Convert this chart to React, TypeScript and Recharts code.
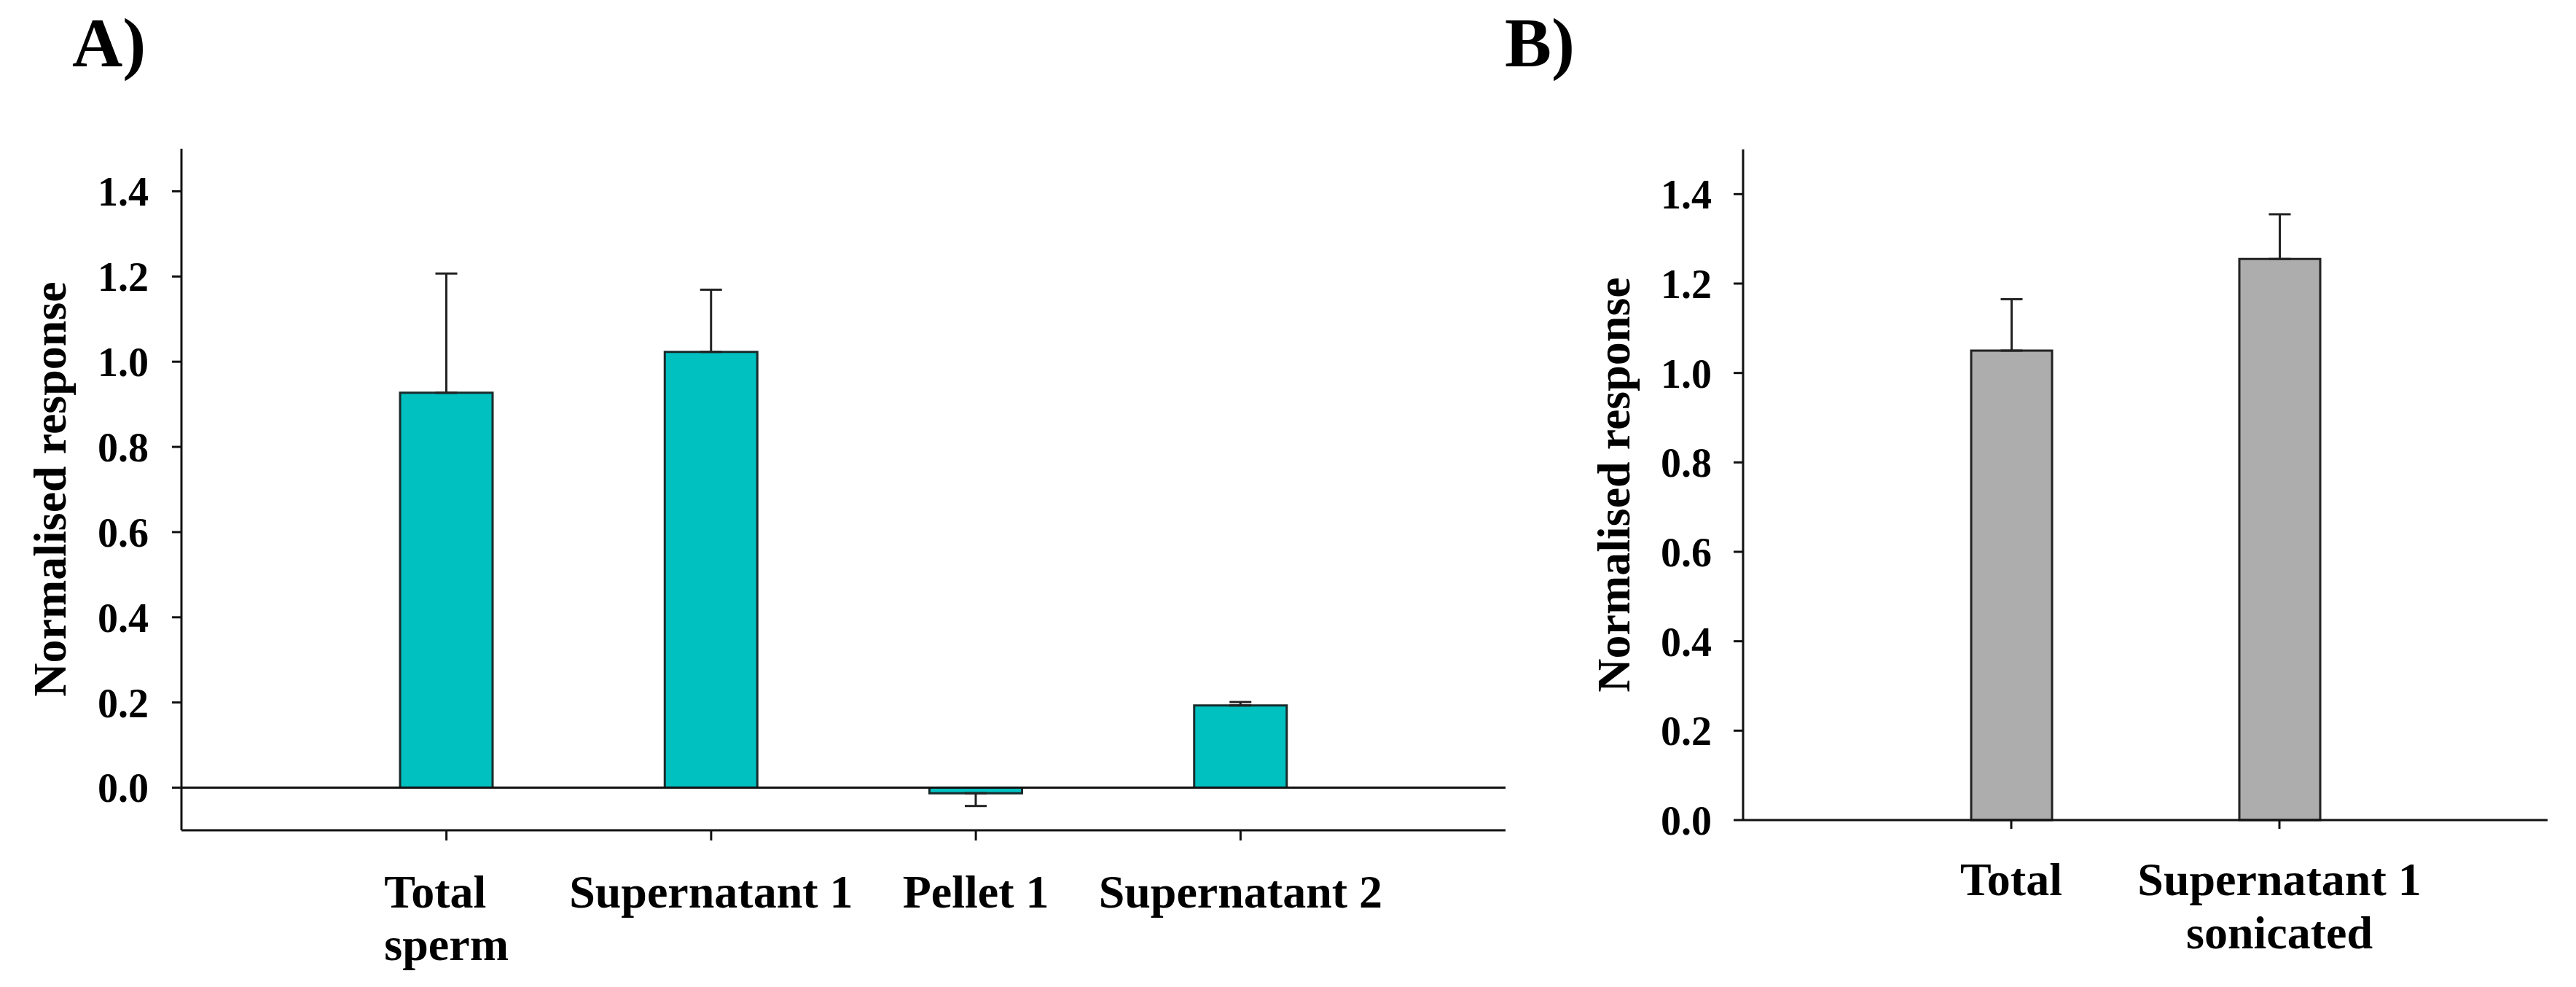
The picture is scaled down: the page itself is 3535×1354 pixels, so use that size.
import { BarChart, Bar, XAxis, YAxis, ReferenceLine, ErrorBar, Label } from 'recharts';

// Panel A: sperm fractions
const fractionNames = ['Total\nsperm', 'Supernatant 1', 'Pellet 1', 'Supernatant 2'];
const fractionMeans = [0.927, 1.023, -0.013, 0.193];
const fractionErrors = [0.28, 0.146, 0.03, 0.008];

// Panel B: sonication
const sonicNames = ['Total', 'Supernatant 1\nsonicated'];
const sonicMeans = [1.05, 1.255];
const sonicErrors = [0.115, 0.1];

const yTicks = [0, 0.2, 0.4, 0.6, 0.8, 1.0, 1.2, 1.4];

const FONT = '"Liberation Serif", "Times New Roman", serif';
const INK = '#111';
const TEAL = '#00C0C0';
const GREY = '#ADADAD';
const LABEL_SIZE = 64;

// error drawn only away from zero, like the original figure
function buildRows(names: string[], means: number[], errors: number[]) {
  return names.map((name, i) => ({
    name,
    value: means[i],
    err: means[i] >= 0 ? [0, errors[i]] : [errors[i], 0],
  }));
}

const measureCtx = document.createElement('canvas').getContext('2d');
function textWidth(s: string) {
  if (!measureCtx) return s.length * LABEL_SIZE * 0.5;
  measureCtx.font = `bold ${LABEL_SIZE}px ${FONT}`;
  return measureCtx.measureText(s).width;
}

// multi-line category label; "left" keeps the lines flush-left as a centred block
function MultiLineTick(props: any) {
  const { x, y, payload, firstDy, lineGap, align } = props;
  const lines = String(payload.value).split('\n');
  const flushLeft = align === 'left' && lines.length > 1;
  const startX = flushLeft ? x - Math.max(...lines.map(textWidth)) / 2 : x;
  return (
    <text
      x={startX}
      y={y}
      textAnchor={flushLeft ? 'start' : 'middle'}
      fontFamily={FONT}
      fontWeight="bold"
      fontSize={LABEL_SIZE}
      fill="#000"
    >
      {lines.map((line, i) => (
        <tspan key={i} x={startX} dy={i === 0 ? firstDy : lineGap}>
          {line}
        </tspan>
      ))}
    </text>
  );
}

function yTitle(baselineX: number, centerY: number) {
  return () => (
    <text
      x={baselineX}
      y={centerY}
      transform={`rotate(-90, ${baselineX}, ${centerY})`}
      textAnchor="middle"
      fontFamily={FONT}
      fontWeight="bold"
      fontSize={LABEL_SIZE}
      fill="#000"
    >
      Normalised response
    </text>
  );
}

const tickStyle = { fontFamily: FONT, fontWeight: 'bold', fontSize: 56, fill: '#000' };
const axisStroke = { stroke: INK, strokeWidth: 3 };

function PanelA() {
  const rows = buildRows(fractionNames, fractionMeans, fractionErrors);
  return (
    <BarChart
      width={2100}
      height={1354}
      data={rows}
      margin={{ top: 204, right: 34, bottom: 0, left: 0 }}
    >
      <XAxis
        dataKey="name"
        type="category"
        interval={0}
        padding={{ left: 182, right: 182 }}
        axisLine={axisStroke}
        tickLine={axisStroke}
        tickSize={14}
        tick={<MultiLineTick firstDy={90} lineGap={72} align="left" />}
        height={215}
      />
      <YAxis
        type="number"
        domain={[-0.1, 1.5]}
        ticks={yTicks}
        interval={0}
        width={249}
        axisLine={axisStroke}
        tickLine={axisStroke}
        tickSize={13}
        tickMargin={32}
        tick={tickStyle}
        tickFormatter={(v: number) => v.toFixed(1)}
      >
        <Label content={yTitle(90, 671)} />
      </YAxis>
      <ReferenceLine y={0} stroke={INK} strokeWidth={3} />
      <Bar dataKey="value" fill={TEAL} stroke="#1a2b2b" strokeWidth={3} barSize={127} isAnimationActive={false}>
        <ErrorBar dataKey="err" width={15} stroke="#222" strokeWidth={3} isAnimationActive={false} />
      </Bar>
    </BarChart>
  );
}

function PanelB() {
  const rows = buildRows(sonicNames, sonicMeans, sonicErrors);
  return (
    <BarChart
      width={1435}
      height={1354}
      data={rows}
      margin={{ top: 205, right: 39, bottom: 0, left: 0 }}
    >
      <XAxis
        dataKey="name"
        type="category"
        interval={0}
        padding={{ left: 184, right: 184 }}
        axisLine={axisStroke}
        tickLine={axisStroke}
        tickSize={12}
        tick={<MultiLineTick firstDy={89} lineGap={73} />}
        height={229}
      />
      <YAxis
        type="number"
        domain={[0, 1.5]}
        ticks={yTicks}
        interval={0}
        width={292}
        axisLine={axisStroke}
        tickLine={axisStroke}
        tickSize={13}
        tickMargin={30}
        tick={tickStyle}
        tickFormatter={(v: number) => v.toFixed(1)}
      >
        <Label content={yTitle(136, 665)} />
      </YAxis>
      <Bar dataKey="value" fill={GREY} stroke="#222" strokeWidth={3} barSize={111} isAnimationActive={false}>
        <ErrorBar dataKey="err" width={15} stroke="#222" strokeWidth={3} isAnimationActive={false} />
      </Bar>
    </BarChart>
  );
}

export default function App() {
  return (
    <div style={{ position: 'absolute', left: 0, top: 0, width: 3535, height: 1354, background: '#fff' }}>
      <div style={{ position: 'absolute', left: 0, top: 0 }}>
        <PanelA />
      </div>
      <div style={{ position: 'absolute', left: 2100, top: 0 }}>
        <PanelB />
      </div>
      <svg width={3535} height={140} style={{ position: 'absolute', left: 0, top: 0, pointerEvents: 'none' }}>
        <text x={99} y={91} fontFamily={FONT} fontWeight="bold" fontSize={96} fill="#000">
          A)
        </text>
        <text x={2065} y={91} fontFamily={FONT} fontWeight="bold" fontSize={96} fill="#000">
          B)
        </text>
      </svg>
    </div>
  );
}
